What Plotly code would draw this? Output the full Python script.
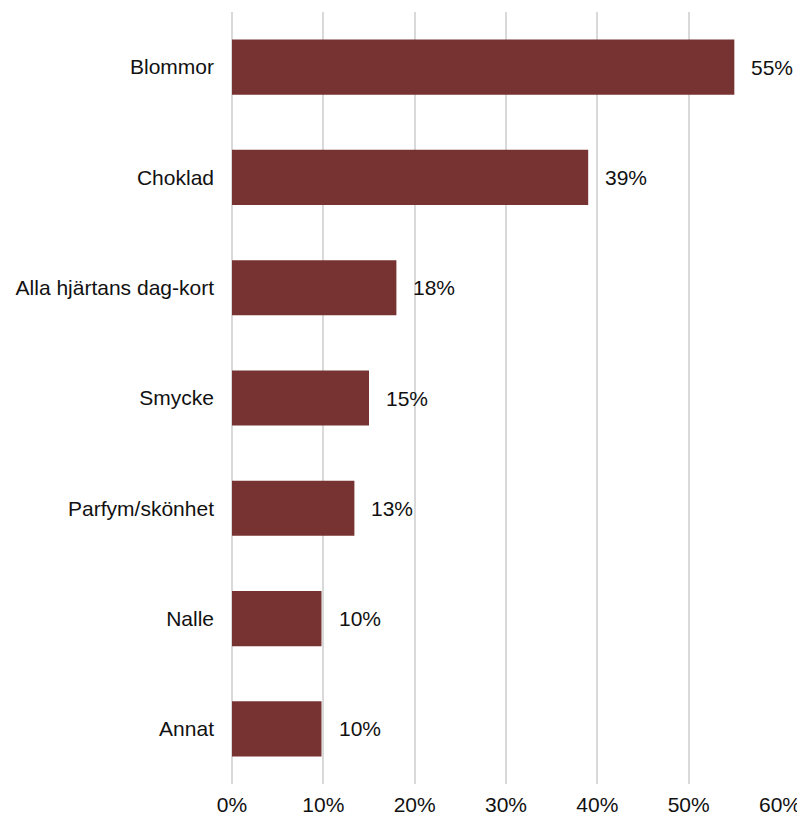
import plotly.graph_objects as go

# Gåvor till alla hjärtans dag (andel)
kategorier = ["Blommor", "Choklad", "Alla hjärtans dag-kort", "Smycke",
              "Parfym/skönhet", "Nalle", "Annat"]
andelar = [55.0, 39.0, 18.0, 15.0, 13.4, 9.8, 9.8]
etiketter = ["55%", "39%", "18%", "15%", "13%", "10%", "10%"]
tick_varden = [0, 10, 20, 30, 40, 50, 60]
tick_text = ["0%", "10%", "20%", "30%", "40%", "50%", "60%"]

fig = go.Figure(go.Bar(
    x=andelar, y=kategorier, orientation="h",
    marker=dict(color="#773232", line=dict(width=0)),
    hoverinfo="skip",
))

# värdeetiketter till höger om staplarna
for kat, v, txt in zip(kategorier, andelar, etiketter):
    fig.add_annotation(x=v, y=kat, text=txt, showarrow=False,
                       xanchor="left", yanchor="middle", xshift=15,
                       font=dict(size=21, color="#111111"))

fig.update_layout(
    width=797, height=812,
    margin=dict(l=224, r=25, t=4, b=25),
    paper_bgcolor="white", plot_bgcolor="white",
    font=dict(family="Liberation Sans, Arial, sans-serif", size=21, color="#111111"),
    bargap=0.5,
    showlegend=False,
    xaxis=dict(range=[0, 60], tickvals=tick_varden, ticktext=tick_text,
               showgrid=True, gridcolor="#d9d9d9", gridwidth=1.5,
               zeroline=True, zerolinecolor="#d9d9d9", zerolinewidth=1.5,
               showline=False, ticks="", ticklabelstandoff=6),
    yaxis=dict(autorange="reversed", showgrid=False, showline=False,
               ticks="", ticklabelstandoff=17),
)

fig.write_html("out.html")
